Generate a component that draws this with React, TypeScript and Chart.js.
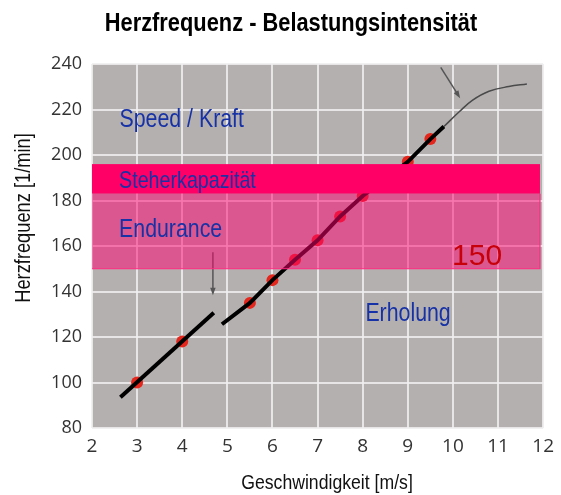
import React, { useEffect, useRef } from 'react';
import { Chart, registerables } from 'chart.js';

Chart.register(...registerables);

// ---- data ----
const chartTitle = 'Herzfrequenz - Belastungsintensität';
const xAxisTitle = 'Geschwindigkeit [m/s]';
const yAxisTitle = 'Herzfrequenz [1/min]';

const xMin = 2;
const xMax = 12;
const yMin = 80;
const yMax = 240;

// measured points (red dots)
const pointX = [3, 4, 5.5, 6, 6.5, 7, 7.5, 8, 9, 9.5];
const pointY = [100, 118, 135, 145, 154, 162.5, 173, 182, 197, 207];

// first black line segment
const lineAX = [2.63, 4.7];
const lineAY = [93.5, 130.7];
// second black line segment
const lineBX = [4.88, 5.5, 6, 6.5, 7, 7.5, 8, 9, 9.5, 9.8];
const lineBY = [125.6, 135, 145, 154, 162.5, 173, 182, 197, 207, 212.5];
// thin flattening curve
const curveX = [9.8, 10.14, 10.43, 10.8, 11.24, 11.64];
const curveY = [212.5, 219, 224, 228, 230.1, 231.2];

// zones
const bandNames = ['Endurance', 'Steherkapazität'];
const bandLow = [150, 183];
const bandHigh = [183, 196];
const bandXStart = 2;
const bandXEnd = 11.93;

// arrows
const arrowX1 = [4.68, 9.73];
const arrowY1 = [157.3, 238.5];
const arrowX2 = [4.68, 10.16];
const arrowY2 = [138.4, 225];

// annotations
const noteText = ['Speed / Kraft', 'Steherkapazität', 'Endurance', '150', 'Erholung'];
const noteX = [2.61, 2.6, 2.6, 9.98, 8.06];
const noteY = [212.2, 185.4, 163.8, 151.6, 127];

const SANS = '"Liberation Sans", Arial, sans-serif';
const noteSize = [26, 24, 26, 30, 26];
const noteSquash = [0.82, 0.82, 0.82, 1, 0.82];
const noteColor = ['#1732A6', '#1732A6', '#1732A6', '#C8000A', '#1732A6'];

const pts = (xs: number[], ys: number[]) => xs.map((x, i) => ({ x, y: ys[i] }));

function narrowText(ctx: CanvasRenderingContext2D, text: string, x: number, y: number, font: string, sx: number, rot = 0) {
  ctx.save();
  ctx.translate(x, y);
  if (rot) ctx.rotate(rot);
  ctx.scale(sx, 1);
  ctx.font = font;
  ctx.fillText(text, 0, 0);
  ctx.restore();
}

const decorPlugin = {
  id: 'decor',
  beforeDraw(chart: any) {
    const { ctx, chartArea } = chart;
    ctx.save();
    ctx.fillStyle = '#B4B0B0';
    ctx.fillRect(chartArea.left, chartArea.top, chartArea.right - chartArea.left, chartArea.bottom - chartArea.top);
    ctx.restore();
  },
  afterDatasetsDraw(chart: any) {
    const { ctx } = chart;
    const xs = chart.scales.x;
    const ys = chart.scales.y;
    // arrows
    ctx.save();
    ctx.strokeStyle = '#555';
    ctx.fillStyle = '#555';
    ctx.lineWidth = 1.5;
    for (let i = 0; i < arrowX1.length; i++) {
      const x1 = xs.getPixelForValue(arrowX1[i]);
      const y1 = ys.getPixelForValue(arrowY1[i]);
      const x2 = xs.getPixelForValue(arrowX2[i]);
      const y2 = ys.getPixelForValue(arrowY2[i]);
      const ang = Math.atan2(y2 - y1, x2 - x1);
      const hl = 8;
      ctx.beginPath();
      ctx.moveTo(x1, y1);
      ctx.lineTo(x2 - Math.cos(ang) * 3, y2 - Math.sin(ang) * 3);
      ctx.stroke();
      ctx.beginPath();
      ctx.moveTo(x2, y2);
      ctx.lineTo(x2 - hl * Math.cos(ang - 0.35), y2 - hl * Math.sin(ang - 0.35));
      ctx.lineTo(x2 - hl * Math.cos(ang + 0.35), y2 - hl * Math.sin(ang + 0.35));
      ctx.closePath();
      ctx.fill();
    }
    ctx.restore();
    // bands
    ctx.save();
    const bx1 = xs.getPixelForValue(bandXStart);
    const bx2 = xs.getPixelForValue(bandXEnd);
    bandNames.forEach((name, i) => {
      const yTop = ys.getPixelForValue(bandHigh[i]);
      const yBot = ys.getPixelForValue(bandLow[i]);
      if (name === 'Endurance') {
        ctx.fillStyle = 'rgba(255, 0, 110, 0.5)';
        ctx.fillRect(bx1, yTop, bx2 - bx1, yBot - yTop);
        ctx.strokeStyle = '#FF2A80';
        ctx.lineWidth = 1.2;
        ctx.beginPath();
        ctx.moveTo(bx1, yBot);
        ctx.lineTo(bx2, yBot);
        ctx.lineTo(bx2, yTop);
        ctx.stroke();
      } else {
        ctx.fillStyle = '#FF0066';
        ctx.fillRect(bx1, yTop, bx2 - bx1, yBot - yTop);
      }
    });
    ctx.restore();
  },
  afterDraw(chart: any) {
    const { ctx } = chart;
    const xs = chart.scales.x;
    const ys = chart.scales.y;
    ctx.save();
    ctx.textBaseline = 'alphabetic';
    ctx.textAlign = 'left';
    noteText.forEach((t, i) => {
      ctx.fillStyle = noteColor[i];
      narrowText(ctx, t, xs.getPixelForValue(noteX[i]), ys.getPixelForValue(noteY[i]), `${noteSize[i]}px ${SANS}`, noteSquash[i]);
    });
    ctx.textAlign = 'center';
    // main title
    ctx.fillStyle = '#000';
    narrowText(ctx, chartTitle, 291, 31, `bold 26px ${SANS}`, 0.84);
    // x axis title
    ctx.fillStyle = '#111';
    narrowText(ctx, xAxisTitle, 327, 489, `21px ${SANS}`, 0.84);
    // y axis title
    narrowText(ctx, yAxisTitle, 30, 218, `22px ${SANS}`, 0.83, -Math.PI / 2);
    ctx.restore();
  },
};

export default function App() {
  const ref = useRef<HTMLCanvasElement | null>(null);
  useEffect(() => {
    if (!ref.current) return;
    const chart = new Chart(ref.current, {
      type: 'line',
      data: {
        datasets: [
          {
            label: 'A',
            data: pts(lineAX, lineAY),
            borderColor: '#000',
            borderWidth: 4,
            pointRadius: 0,
            borderCapStyle: 'butt',
          },
          {
            label: 'B',
            data: pts(lineBX, lineBY),
            borderColor: '#000',
            borderWidth: 4,
            pointRadius: 0,
            borderCapStyle: 'butt',
          },
          {
            label: 'Kurve',
            data: pts(curveX, curveY),
            borderColor: '#4a4a4a',
            borderWidth: 1.5,
            pointRadius: 0,
            tension: 0.4,
          },
          {
            label: 'Messpunkte',
            data: pts(pointX, pointY),
            showLine: false,
            pointRadius: 6,
            pointBackgroundColor: '#E4261C',
            pointBorderWidth: 0,
            borderColor: 'transparent',
          },
        ],
      },
      options: {
        animation: false,
        responsive: false,
        devicePixelRatio: 1,
        layout: { padding: { top: 64, right: 13, left: 0, bottom: 0 } },
        plugins: {
          legend: { display: false },
          title: { display: false },
          tooltip: { enabled: false },
        },
        scales: {
          x: {
            type: 'linear',
            min: xMin,
            max: xMax,
            ticks: {
              stepSize: 1,
              color: '#333',
              padding: 7,
              font: { family: '"Open Sans", sans-serif', size: 19 },
            },
            grid: { color: 'rgba(240,238,238,0.85)', lineWidth: 2, drawTicks: false },
            border: { display: false },
            afterFit: (s: any) => { s.height = 67; },
          },
          y: {
            type: 'linear',
            min: yMin,
            max: yMax,
            ticks: {
              stepSize: 20,
              color: '#333',
              padding: 10,
              font: { family: '"Open Sans", sans-serif', size: 18 },
            },
            grid: { color: 'rgba(240,238,238,0.85)', lineWidth: 2, drawTicks: false },
            border: { display: false },
            afterFit: (s: any) => { s.width = 92; },
          },
        },
      },
      plugins: [decorPlugin],
    });
    return () => chart.destroy();
  }, []);
  return (
    <div style={{ position: 'absolute', left: 0, top: 0, width: 561, height: 495 }}>
      <canvas ref={ref} width={561} height={495} />
    </div>
  );
}
